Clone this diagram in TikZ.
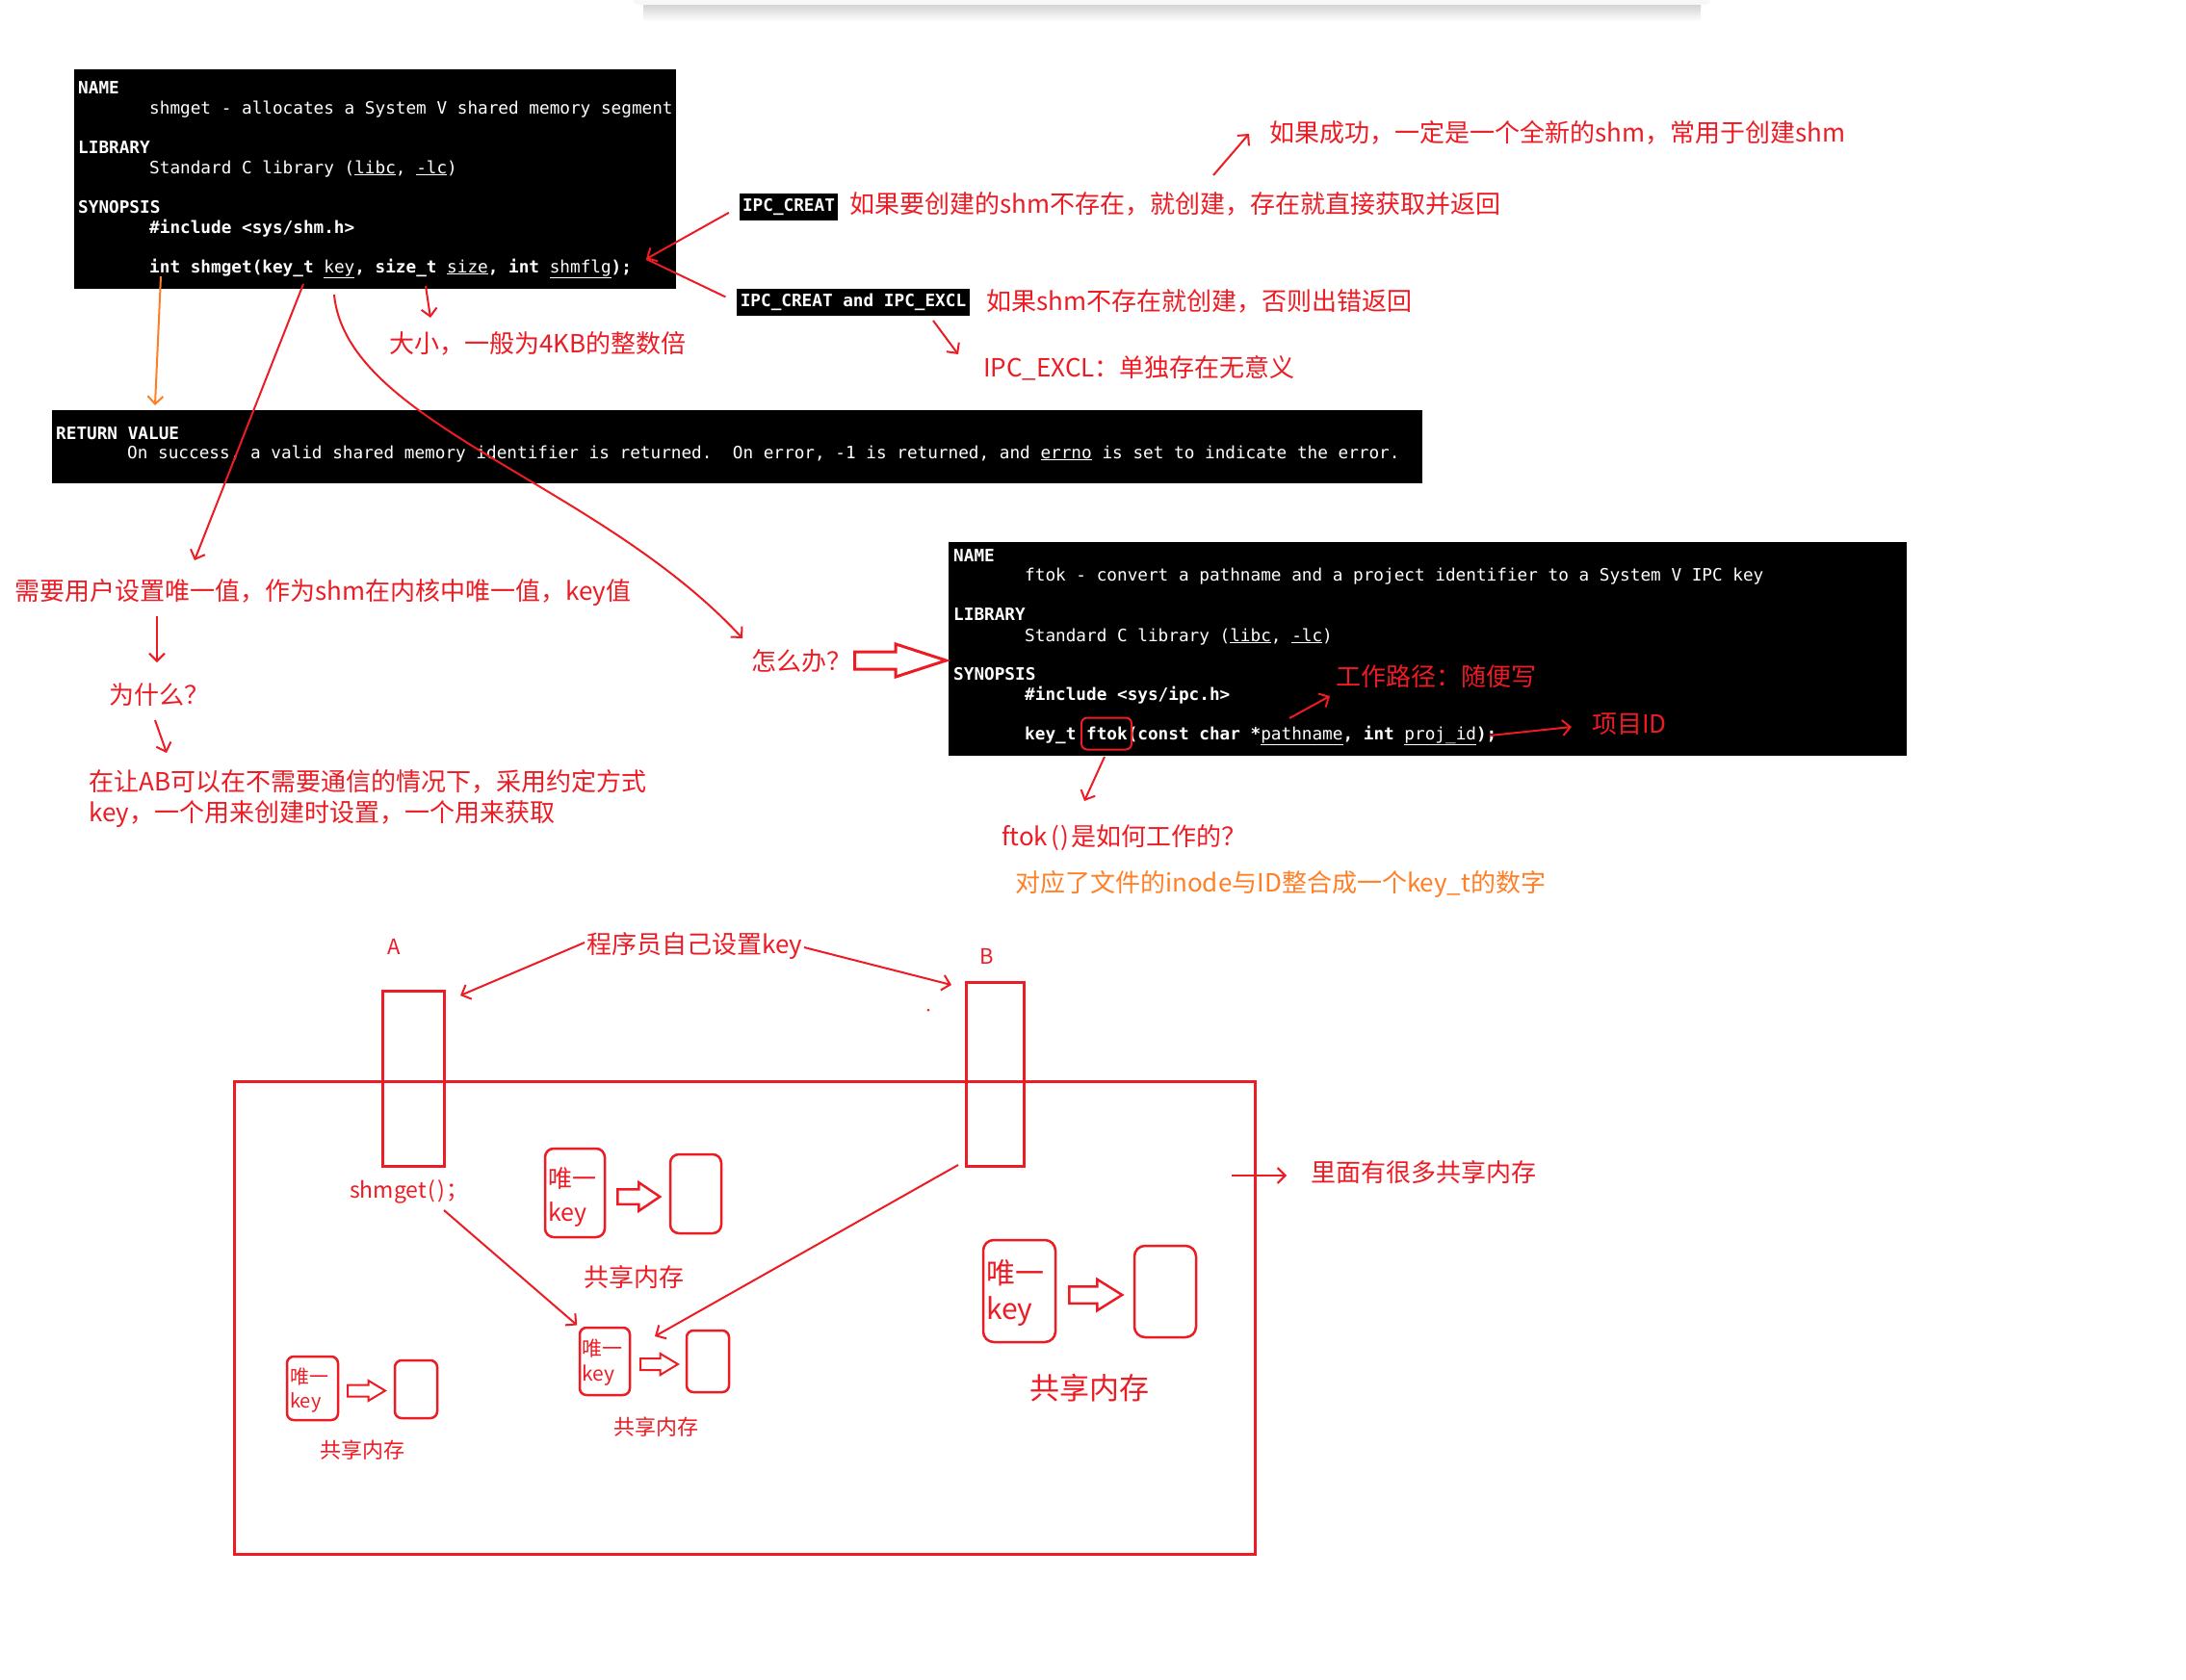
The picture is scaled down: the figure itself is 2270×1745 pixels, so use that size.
\documentclass[tikz,border=0pt]{standalone}
\usepackage{fontspec}
\setmainfont{Noto Sans CJK SC}
\newfontfamily\monof{DejaVu Sans Mono}
\usetikzlibrary{arrows.meta,shapes.arrows}
\definecolor{pred}{HTML}{ED1C24}
\definecolor{porange}{HTML}{FF7F27}
\newcommand\myfs[1]{\fontsize{#1}{#1}\selectfont}
\frenchspacing
\begin{document}
\begin{tikzpicture}[x=1pt,y=-1pt,
  mline/.style={anchor=base west, inner sep=0pt, text=white, font=\monof\myfs{17.7}},
  manbox/.style={fill=black, inner sep=0pt, anchor=north west},
  ipcbox/.style={fill=black, text=white, font=\monof\bfseries\myfs{17.7}, inner xsep=3.5pt, inner ysep=0pt, minimum height=28pt, text height=13pt, text depth=4pt},
  rtext/.style={anchor=west, inner sep=0pt, text=pred, font=\myfs{26}},
  otext/.style={anchor=west, inner sep=0pt, text=porange, font=\myfs{26}},
  rline/.style={draw=pred, line width=2pt},
  rarrow/.style={rline, -{Straight Barb[length=8pt,width=16pt]}},
  oarrow/.style={draw=porange, line width=2pt, -{Straight Barb[length=8pt,width=16pt]}},
  bigbox/.style={draw=pred, line width=3pt},
  keybox/.style={draw=pred, line width=2.5pt, rounded corners=9pt},
  blk/.style={shape=single arrow, draw=pred, line width=2.5pt, inner xsep=0pt, single arrow head indent=0pt, anchor=tail},
]
\useasboundingbox (0,0) rectangle (2270,1745);
\fill[white] (0,0) rectangle (2270,1745);

% top panel remnant
\shade[top color=black!18, bottom color=white] (668,4) rectangle (1766,22);
\fill[black!3, rounded corners=6pt] (657,-20) rectangle (1776,5);

% ---------- shmget man page ----------
\node[manbox, minimum width=625pt, minimum height=228pt] (man1) at (77,72) {};
\node[mline, font=\monof\bfseries\myfs{17.7}] (m1a) at (81,97) {NAME};
\node[mline] (m1b) at (155,118) {shmget - allocates a System V shared memory segment};
\node[mline, font=\monof\bfseries\myfs{17.7}] (m1c) at (81,159) {LIBRARY};
\node[mline] (m1d) at (155,180) {Standard C library (\underline{libc}, \underline{-lc})};
\node[mline, font=\monof\bfseries\myfs{17.7}] (m1e) at (81,221) {SYNOPSIS};
\node[mline, font=\monof\bfseries\myfs{17.7}] (m1f) at (155,242) {\#include <sys/shm.h>};
\node[mline] (m1g) at (155,283) {{\bfseries int shmget(key\_t }\underline{key}{\bfseries , size\_t }\underline{size}{\bfseries , int }\underline{shmflg}{\bfseries );}};

% ---------- return value ----------
\node[manbox, minimum width=1423pt, minimum height=76pt] (man2) at (54,426) {};
\node[mline, font=\monof\bfseries\myfs{17.7}] (m2a) at (58,456) {RETURN VALUE};
\node[mline] (m2b) at (132,476) {On success, a valid shared memory identifier is returned.\ \ On error, -1 is returned, and \underline{errno} is set to indicate the error.};

% ---------- ftok man page ----------
\node[manbox, minimum width=995pt, minimum height=222pt] (man3) at (985,563) {};
\node[mline, font=\monof\bfseries\myfs{17.7}] (m3a) at (990,583) {NAME};
\node[mline] (m3b) at (1064,603) {ftok - convert a pathname and a project identifier to a System V IPC key};
\node[mline, font=\monof\bfseries\myfs{17.7}] (m3c) at (990,644) {LIBRARY};
\node[mline] (m3d) at (1064,666) {Standard C library (\underline{libc}, \underline{-lc})};
\node[mline, font=\monof\bfseries\myfs{17.7}] (m3e) at (990,706) {SYNOPSIS};
\node[mline, font=\monof\bfseries\myfs{17.7}] (m3f) at (1064,727) {\#include <sys/ipc.h>};
\node[mline] (m3g) at (1064,768) {{\bfseries key\_t ftok(const char *}\underline{pathname}{\bfseries , int }\underline{proj\_id}{\bfseries );}};
\node[draw=pred, line width=2pt, rounded corners=6pt, minimum width=52pt, minimum height=33pt, inner sep=0pt] (ftokbox) at (1149,762) {};

% ---------- IPC flags ----------
\node[ipcbox] (ipc1) at (819,215) {IPC\_CREAT};
\node[ipcbox] (ipc2) at (886,314) {IPC\_CREAT and IPC\_EXCL};

% ---------- red / orange texts ----------
\node[rtext] (t1) at (1318,138) {如果成功，一定是一个全新的shm，常用于创建shm};
\node[rtext] (t2) at (882,212) {如果要创建的shm不存在，就创建，存在就直接获取并返回};
\node[rtext] (t3) at (1024,313) {如果shm不存在就创建，否则出错返回};
\node[rtext] (t4) at (1021,382) {IPC\_EXCL：单独存在无意义};
\node[rtext] (t5) at (404,357) {大小，一般为4KB的整数倍};
\node[rtext] (t6) at (15,616) {需要用户设置唯一值，作为shm在内核中唯一值，key值};
\node[rtext] (t7) at (113,722) {为什么？};
\node[rtext] (t8) at (92,812) {在让AB可以在不需要通信的情况下，采用约定方式};
\node[rtext] (t9) at (92,846) {key，一个用来创建时设置，一个用来获取};
\node[rtext] (t10) at (780,687) {怎么办？};
\node[rtext] (t11) at (1387,703) {工作路径：随便写};
\node[rtext] (t12) at (1653,752) {项目ID};
\node[rtext] (t13) at (1040,870) {ftok\kern3pt(\kern2pt)\kern2pt 是如何工作的？};
\node[otext] (t14) at (1054,919) {对应了文件的inode与ID整合成一个key\_t的数字};
\node[rtext, anchor=center, font=\myfs{22}] (tA) at (409,983) {A};
\node[rtext, anchor=center, font=\myfs{22}] (tB) at (1025,993) {B};
\node[rtext] (t17) at (609,983) {程序员自己设置key};
\node[rtext, font=\myfs{23}] (t18) at (363,1238) {shmget\kern2pt(\kern2pt)\kern1pt；};
\node[rtext] (t23) at (1361,1218) {里面有很多共享内存};

% ---------- lower diagram ----------
\draw[bigbox] (243,1123) rectangle (1303,1614);
\node[bigbox, minimum width=64pt, minimum height=182pt, inner sep=0pt] (Abox) at (429,1120) {};
\node[bigbox, minimum width=60pt, minimum height=191pt, inner sep=0pt] (Bbox) at (1033,1115.5) {};

% group 1
\node[keybox, minimum width=62pt, minimum height=92pt, inner sep=0pt] (k1) at (597,1239) {};
\node[rtext, font=\myfs{25}] (k1a) at (569,1224) {唯一};
\node[rtext, font=\myfs{25}] (k1b) at (569,1261) {key};
\node[blk, minimum height=44pt, inner ysep=6.5pt, single arrow head extend=7pt, single arrow tip angle=68] (a1) at (640,1243) {};
\node[keybox, minimum width=53pt, minimum height=82pt, inner sep=0pt] (s1) at (722.5,1240) {};
\node[rtext] (l1) at (606,1327) {共享内存};

% group 2
\node[keybox, minimum width=52pt, minimum height=70pt, inner sep=0pt, rounded corners=7pt] (k2) at (628,1414) {};
\node[rtext, font=\myfs{21}] (k2a) at (604,1401) {唯一};
\node[rtext, font=\myfs{21}] (k2b) at (604,1429) {key};
\node[blk, line width=2pt, minimum height=39pt, inner ysep=5pt, single arrow head extend=5pt, single arrow tip angle=62] (a2) at (664,1417) {};
\node[keybox, minimum width=44pt, minimum height=64pt, inner sep=0pt, rounded corners=7pt] (s2) at (735,1414) {};
\node[rtext, font=\myfs{22}] (l2) at (637,1482) {共享内存};

% group 3
\node[keybox, minimum width=53pt, minimum height=66pt, inner sep=0pt, rounded corners=7pt] (k3) at (324.5,1442) {};
\node[rtext, font=\myfs{20}] (k3a) at (301,1430) {唯一};
\node[rtext, font=\myfs{20}] (k3b) at (301,1457) {key};
\node[blk, line width=2pt, minimum height=39pt, inner ysep=5pt, single arrow head extend=4.5pt, single arrow tip angle=62] (a3) at (360,1444.5) {};
\node[keybox, minimum width=44pt, minimum height=60pt, inner sep=0pt, rounded corners=7pt] (s3) at (432,1443) {};
\node[rtext, font=\myfs{22}] (l3) at (332,1506) {共享内存};

% group 4
\node[keybox, minimum width=75pt, minimum height=106pt, inner sep=0pt, rounded corners=11pt] (k4) at (1058.5,1341) {};
\node[rtext, font=\myfs{30}] (k4a) at (1024,1322) {唯一};
\node[rtext, font=\myfs{30}] (k4b) at (1024,1362) {key};
\node[blk, minimum height=55pt, inner ysep=7.5pt, single arrow head extend=7.5pt, single arrow tip angle=64] (a4) at (1109,1345) {};
\node[keybox, minimum width=64pt, minimum height=95pt, inner sep=0pt, rounded corners=11pt] (s4) at (1210,1341.5) {};
\node[rtext, font=\myfs{31}] (l4) at (1069,1442) {共享内存};

% big hollow arrow after 怎么办
\node[blk, line width=3pt, minimum height=95pt, inner ysep=7.5pt, single arrow head extend=8pt, single arrow tip angle=36] (abig) at (886,686) {};

% ---------- connectors ----------
\coordinate (vtx) at (671,269);
\draw[rarrow, shorten <=12pt] (ipc1.west) -- (vtx);
\draw[rline, shorten <=13pt] (ipc2.west) -- (vtx);

\coordinate (b0) at (1260,182); \coordinate (b1) at (1297,139);
\draw[rarrow] (b0) -- (b1);
\coordinate (c0) at (969,333); \coordinate (c1) at (995,368);
\draw[rarrow] (c0) -- (c1);
\coordinate (d0) at (442,297); \coordinate (d1) at (447,330);
\draw[rarrow] (d0) -- (d1);
\coordinate (e0) at (167,287); \coordinate (e1) at (161,421);
\draw[oarrow] (e0) -- (e1);
\coordinate (f0) at (315,295); \coordinate (f1) at (202,582);
\draw[rarrow] (f0) -- (f1);
\coordinate (g0) at (347,306); \coordinate (g1) at (771,663);
\draw[rarrow] (g0) .. controls (360,440) and (620,500) .. (g1);
\coordinate (h0) at (163,640); \coordinate (h1) at (163,688);
\draw[rarrow] (h0) -- (h1);
\coordinate (i0) at (161,748); \coordinate (i1) at (173,782);
\draw[rarrow] (i0) -- (i1);
\coordinate (k0) at (1339,746); \coordinate (kk1) at (1381,723);
\draw[rarrow] (k0) -- (kk1);
\coordinate (l0) at (1547,764); \coordinate (ll1) at (1632,755);
\draw[rarrow] (l0) -- (ll1);
\coordinate (m0) at (1147,786); \coordinate (mm1) at (1126,832);
\draw[rarrow] (m0) -- (mm1);
\coordinate (n0) at (607,979); \coordinate (n1) at (478,1034);
\draw[rarrow] (n0) -- (n1);
\coordinate (o0) at (835,984); \coordinate (o1) at (988,1023);
\draw[rarrow] (o0) -- (o1);
\coordinate (p0) at (461,1257);
\draw[rarrow, shorten >=2pt] (p0) -- (k2.north west);
\coordinate (q0) at (995,1210); \coordinate (q1) at (680,1388);
\draw[rarrow] (q0) -- (q1);
\coordinate (r0) at (1279,1221); \coordinate (r1) at (1336,1221);
\draw[rarrow] (r0) -- (r1);
\fill[pred] (964,1049) circle (1.5pt);
\end{tikzpicture}
\end{document}
